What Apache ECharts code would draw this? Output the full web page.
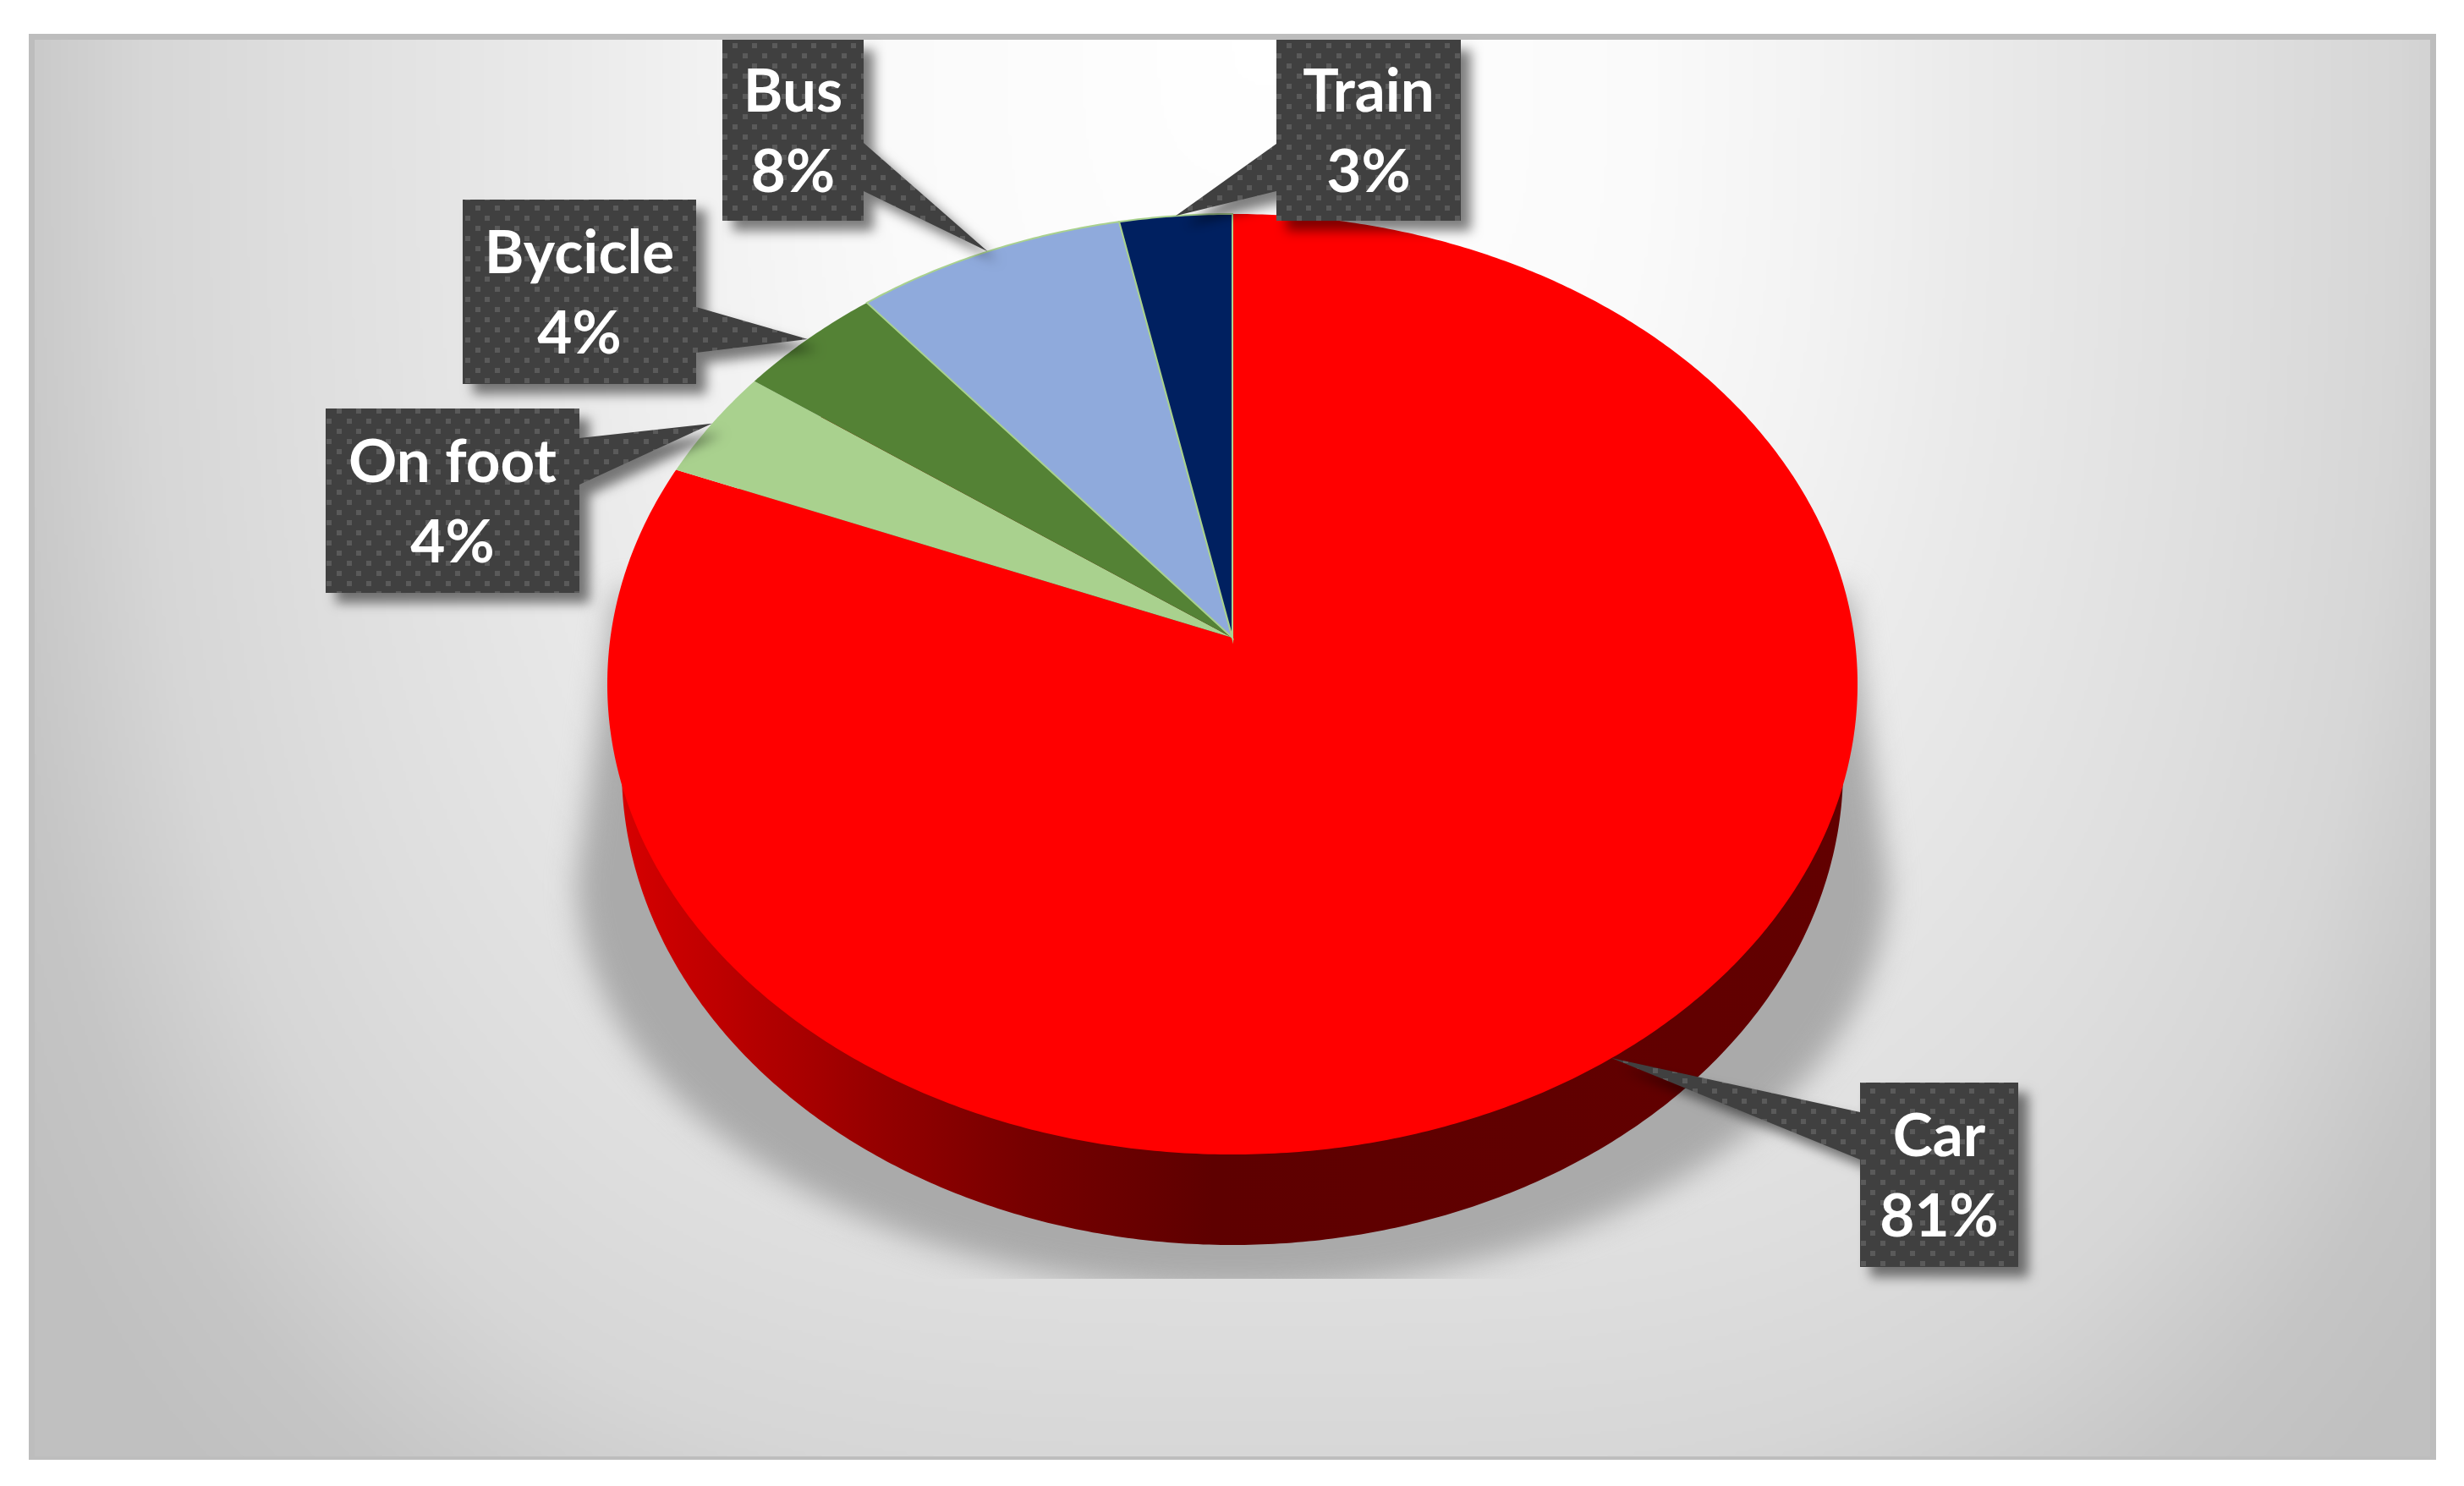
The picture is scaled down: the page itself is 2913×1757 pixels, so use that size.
<!DOCTYPE html>
<html>
<head>
<meta charset="utf-8">
<title>Modal split</title>
<style>html,body{margin:0;padding:0;background:#fff}#c{width:2913px;height:1757px}</style>
<script src="https://cdn.jsdelivr.net/npm/echarts@6/dist/echarts.min.js"></script>
</head>
<body>
<div id="c"></div>
<script>
// ---- data, clockwise from twelve o'clock ----
const categories = ['Car', 'On foot', 'Bycicle', 'Bus', 'Train'];
const shares = [81.1, 3.8, 4.2, 7.7, 3.2];
const sliceColors = ['#ff0000', '#a9d18e', '#548235', '#8faadc', '#002060'];
const sliceEdges = [null, null, null, '#a9d18e', '#a9d18e'];

// ---- layout (not data) ----
const W = 2913, H = 1757;
const panel = {x: 34, y: 40, r: 2880, b: 1726};
// perspective view of the disc: apex, half axes and tilt of the projective map
const apex = {x: 1457, y: 754};
const proj = {a: 550.6, b: 735.4, k: -0.0989};
const topEllipse = {cy: 809, rx: 739, ry: 556};
const wallEllipse = {cy: 909, rx: 722, ry: 563};
// callout boxes: left, top, width, height, side of the pointer, pointer base top/bottom
const calloutBoxes = [
  {x: 2199, y: 1280, w: 187, h: 218, side: 'left', b1: 1315, b2: 1371},
  {x: 385, y: 483, w: 300, h: 218, side: 'right', b1: 518, b2: 573},
  {x: 547, y: 236, w: 276, h: 218, side: 'right', b1: 363, b2: 417},
  {x: 854, y: 47, w: 167, h: 214, side: 'right', b1: 169, b2: 226},
  {x: 1509, y: 47, w: 218, h: 214, side: 'left', b1: 170, b2: 226}
];
const bgStops = [[0, 255], [0.3, 250], [0.45, 242], [0.55, 235], [0.78, 222], [0.9, 214], [0.97, 204], [1.02, 197], [1.1, 192]];

const total = shares.reduce((s, v) => s + v, 0);
function arcPoint(frac) {            // fraction of the full turn -> screen point on the top rim
  const t = frac * 2 * Math.PI;
  const x = Math.sin(t), y = -Math.cos(t);
  const d = 1 + proj.k * y;
  return [apex.x + proj.b * x / d, apex.y + proj.a * y / d];
}
function toWall(p) {                 // same rim point on the lower edge of the wall
  return [apex.x + (p[0] - apex.x) * wallEllipse.rx / topEllipse.rx,
          wallEllipse.cy + (p[1] - topEllipse.cy) * wallEllipse.ry / topEllipse.ry];
}
function sliceRange(i) {
  let s = 0;
  for (let j = 0; j < i; j++) s += shares[j];
  return [s / total, (s + shares[i]) / total];
}
function arcPoints(f0, f1) {
  const n = Math.max(8, Math.ceil((f1 - f0) * 720));
  const pts = [];
  for (let i = 0; i <= n; i++) pts.push(arcPoint(f0 + (f1 - f0) * i / n));
  return pts;
}

function grayAt(t) {
  for (let i = 1; i < bgStops.length; i++) {
    if (t <= bgStops[i][0]) {
      const a = bgStops[i - 1], b = bgStops[i];
      return a[1] + (b[1] - a[1]) * (t - a[0]) / (b[0] - a[0]);
    }
  }
  return bgStops[bgStops.length - 1][1];
}

// ---- panel background with its soft shadow ----
function makeBackground() {
  const q = 4, sw = Math.ceil(W / q), sh = Math.ceil(H / q);
  const small = document.createElement('canvas');
  small.width = sw; small.height = sh;
  const sc = small.getContext('2d');
  const img = sc.createImageData(sw, sh);
  for (let j = 0; j < sh; j++) {
    for (let i = 0; i < sw; i++) {
      const dx = Math.abs(i * q - 1500) / 1480, dy = Math.abs(j * q - panel.y) / 1900;
      const t = Math.pow(dx * dx * dx + dy * dy * dy, 1 / 3);
      const v = grayAt(t), o = (j * sw + i) * 4;
      img.data[o] = img.data[o + 1] = img.data[o + 2] = v;
      img.data[o + 3] = 255;
    }
  }
  sc.putImageData(img, 0, 0);

  const cv = document.createElement('canvas');
  cv.width = W; cv.height = H;
  const c = cv.getContext('2d');
  c.fillStyle = '#fff'; c.fillRect(0, 0, W, H);
  c.save();
  c.beginPath(); c.rect(panel.x, panel.y, panel.r - panel.x, panel.b - panel.y); c.clip();
  c.imageSmoothingEnabled = true;
  c.imageSmoothingQuality = 'high';
  c.drawImage(small, 0, 0, sw * q, sh * q);
  // ground shadow
  c.save();
  c.beginPath(); c.rect(panel.x, panel.y, panel.r - panel.x, 1512 - panel.y); c.clip();
  c.filter = 'blur(17px)';
  c.fillStyle = '#aaaaaa';
  c.beginPath();
  c.moveTo(728, 700);
  c.lineTo(682, 1040);
  c.ellipse(1457, 1040, 775, 485, 0, Math.PI, 0, true);
  c.lineTo(2186, 700);
  c.closePath();
  c.fill();
  c.restore();
  // frame strips
  c.fillStyle = '#bdbdbd';
  c.fillRect(panel.x, panel.y, panel.r - panel.x, 7);
  c.fillRect(panel.x, panel.y, 7, panel.b - panel.y);
  c.fillRect(panel.r - 7, panel.y, 7, panel.b - panel.y);
  c.fillRect(panel.x, panel.b - 4, panel.r - panel.x, 4);
  c.restore();
  return cv;
}

// ---- dotted callout fill ----
function makeDots() {
  const cv = document.createElement('canvas');
  cv.width = 117; cv.height = 24;
  const c = cv.getContext('2d');
  c.fillStyle = '#404040'; c.fillRect(0, 0, 117, 24);
  c.fillStyle = '#5a5a5a';
  for (let i = 0; i < 5; i++) {
    c.fillRect(Math.round(i * 23.4), 3, 6, 6);
    c.fillRect(Math.round((i + 0.5) * 23.4), 15, 6, 6);
  }
  return cv;
}
const dots = makeDots();

const wallColors = {
  type: 'linear', x: 735, y: 0, x2: 2190, y2: 0, global: true,
  colorStops: [
    {offset: 0, color: '#d60000'},
    {offset: 0.11, color: '#b40000'},
    {offset: 0.22, color: '#920000'},
    {offset: 0.33, color: '#760000'},
    {offset: 0.48, color: '#5e0000'},
    {offset: 1, color: '#620000'}
  ]
};

function renderWall(params, api) {
  const i = params.dataIndex;
  const [f0, f1] = sliceRange(i);
  const rim = arcPoints(f0, f1);
  const pts = [[apex.x, wallEllipse.cy]].concat(rim.map(toWall));
  return {type: 'polygon', shape: {points: pts}, style: {fill: wallColors}, silent: true};
}
function renderFace(params, api) {
  const i = params.dataIndex;
  const [f0, f1] = sliceRange(i);
  const pts = [[apex.x, apex.y]].concat(arcPoints(f0, f1));
  const edge = sliceEdges[i];
  return {
    type: 'polygon', shape: {points: pts},
    style: {fill: sliceColors[i], stroke: edge || null, lineWidth: edge ? 2 : 0},
    silent: true
  };
}
function renderCallout(params, api) {
  const i = params.dataIndex;
  const box = calloutBoxes[i];
  const [f0, f1] = sliceRange(i);
  const tip = arcPoint((f0 + f1) / 2);
  const x0 = box.x, x1 = box.x + box.w, y0 = box.y, y1 = box.y + box.h;
  const pts = box.side === 'right'
    ? [[x0, y0], [x1, y0], [x1, box.b1], tip, [x1, box.b2], [x1, y1], [x0, y1]]
    : [[x0, y0], [x1, y0], [x1, y1], [x0, y1], [x0, box.b2], tip, [x0, box.b1]];
  return {
    type: 'group',
    children: [
      {
        type: 'polygon', shape: {points: pts},
        style: {
          fill: {image: dots, repeat: 'repeat'},
          shadowBlur: 14, shadowOffsetX: 12, shadowOffsetY: 12,
          shadowColor: 'rgba(0,0,0,0.5)'
        },
        silent: true
      },
      {
        type: 'text', silent: true,
        style: {
          x: (x0 + x1) / 2, y: (y0 + y1) / 2 + 3,
          text: categories[i] + '\n' + Math.round(api.value(1)) + '%',
          fill: '#ffffff', fontFamily: 'Lato', fontSize: 71, fontWeight: 700,
          lineHeight: 95, align: 'center', verticalAlign: 'middle'
        }
      }
    ]
  };
}

const source = categories.map((n, i) => [n, shares[i]]);
const baseSeries = {type: 'custom', coordinateSystem: 'none', data: source, animation: false,
  encode: {itemName: 0, value: 1}, clip: false};

const chart = echarts.init(document.getElementById('c'), null, {renderer: 'canvas', width: W, height: H});
chart.setOption({
  animation: false,
  backgroundColor: '#ffffff',
  graphic: {elements: [{
    type: 'image', silent: true, z: -10,
    style: {image: makeBackground(), x: 0, y: 0, width: W, height: H}
  }]},
  series: [
    Object.assign({}, baseSeries, {name: 'wall', z: 2, renderItem: renderWall}),
    Object.assign({}, baseSeries, {name: 'face', z: 3, renderItem: renderFace}),
    Object.assign({}, baseSeries, {name: 'callouts', z: 4, renderItem: renderCallout})
  ]
});
</script>
</body>
</html>
